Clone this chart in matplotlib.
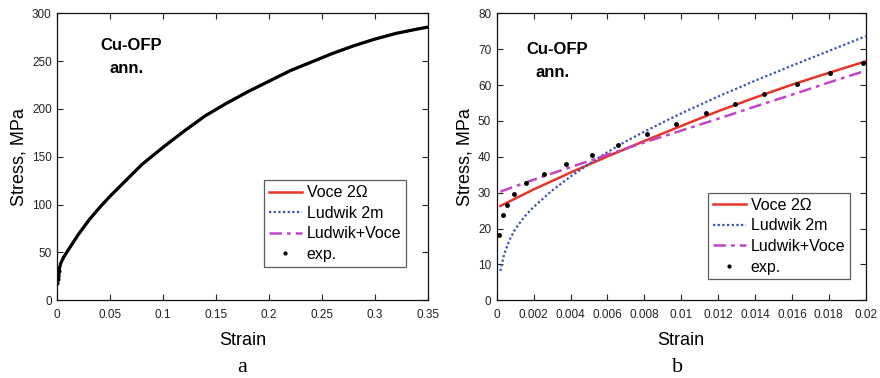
import matplotlib
matplotlib.use("Agg")
import matplotlib.pyplot as plt
from matplotlib.lines import Line2D

plt.rcParams['font.family'] = ['Liberation Sans', 'DejaVu Sans']

# ---- Panel a: full range (experimental curve, fits coincide) ----
strain_a = [0, 0.001, 0.003, 0.006, 0.01, 0.02, 0.03, 0.04, 0.05, 0.06, 0.08,
            0.10, 0.12, 0.14, 0.16, 0.18, 0.20, 0.22, 0.24, 0.26, 0.28, 0.30,
            0.32, 0.34, 0.35]
stress_a = [17.8, 28, 38, 45, 52, 69, 84, 97, 109, 120, 142,
            160, 177, 193, 206, 218, 229, 240, 249, 258, 266, 273,
            279, 283.5, 285.5]
start_strain_a = [0, 0.0003, 0.0006, 0.001, 0.0015]
start_stress_a = [17.8, 22, 25, 28, 31]

# ---- Panel b: small strains ----
exp_strain = [0.000145, 0.00036, 0.00056, 0.00096, 0.00157, 0.00257, 0.00378,
              0.00517, 0.00656, 0.00815, 0.00974, 0.01133, 0.01292, 0.01449,
              0.01628, 0.01805, 0.01984]
exp_stress = [18.2, 23.8, 26.7, 29.7, 32.6, 35.2, 37.9, 40.6, 43.3, 46.3,
              49.2, 52.1, 54.7, 57.4, 60.4, 63.3, 66.1]

voce_strain = [0.0002, 0.002, 0.004, 0.006, 0.008, 0.010, 0.012, 0.014,
               0.016, 0.018, 0.020]
voce_stress = [26.3, 30.9, 35.6, 40.1, 44.4, 48.6, 52.7, 56.5, 60.1, 63.4, 66.6]

ludwik_strain = [0.0002, 0.0004, 0.0007, 0.001, 0.0015, 0.002, 0.003, 0.004,
                 0.005, 0.006, 0.007, 0.008, 0.009, 0.010, 0.012, 0.014,
                 0.016, 0.018, 0.020]
ludwik_stress = [8.2, 12.8, 16.9, 19.8, 23.3, 26.0, 30.6, 34.5, 38.0, 41.3,
                 44.3, 47.0, 49.6, 52.1, 56.8, 61.2, 65.4, 69.5, 73.6]

lv_strain = [0.0002, 0.002, 0.004, 0.006, 0.008, 0.010, 0.012, 0.014,
             0.016, 0.018, 0.020]
lv_stress = [30.3, 33.6, 37.1, 40.6, 44.0, 47.3, 50.6, 54.0, 57.3, 60.7, 64.0]

xticks_a = [0, 0.05, 0.1, 0.15, 0.2, 0.25, 0.3, 0.35]
xticklabels_a = ['0', '0.05', '0.1', '0.15', '0.2', '0.25', '0.3', '0.35']
yticks_a = [0, 50, 100, 150, 200, 250, 300]
xticks_b = [0, 0.002, 0.004, 0.006, 0.008, 0.01, 0.012, 0.014, 0.016, 0.018, 0.02]
xticklabels_b = ['0', '0.002', '0.004', '0.006', '0.008', '0.01', '0.012',
                 '0.014', '0.016', '0.018', '0.02']
yticks_b = [0, 10, 20, 30, 40, 50, 60, 70, 80]

RED = '#e5352a'
BLUE = '#3a4fbf'
MAG = '#c444c6'

fig = plt.figure(figsize=(8.8, 3.78), dpi=100)
axA = fig.add_axes([57.3 / 880, 1 - 300.3 / 378, (427.7 - 57.3) / 880, (300.3 - 13.3) / 378])
axB = fig.add_axes([496.7 / 880, 1 - 300.3 / 378, (865.7 - 496.7) / 880, (300.3 - 13.3) / 378])

def style(ax, xt, xtl, yt):
    ax.set_xticks(xt)
    ax.set_xticklabels(xtl)
    ax.set_yticks(yt)
    ax.tick_params(direction='in', top=True, right=True, length=4, width=0.8,
                   labelsize=8.5, colors='#222222', pad=4)
    ax.tick_params(axis='x', pad=6)
    for s in ax.spines.values():
        s.set_linewidth(0.9)
        s.set_color('#111111')
    ax.set_xlabel('Strain', fontsize=13, labelpad=8)
    ax.set_ylabel('Stress, MPa', fontsize=13, labelpad=3)

# Panel a
axA.plot(strain_a, stress_a, color=RED, lw=1.5)
axA.plot(strain_a, stress_a, color=BLUE, lw=1.5, ls=':')
axA.plot(strain_a, stress_a, color=MAG, lw=1.5, ls='-.')
axA.plot(strain_a, stress_a, color='black', lw=2.3)
axA.plot(start_strain_a, start_stress_a, ls='none', marker='.', color='black', ms=4)
axA.set_xlim(0, 0.35)
axA.set_ylim(0, 300)
style(axA, xticks_a, xticklabels_a, yticks_a)
fig.text(131 / 880, 1 - 45 / 378, 'Cu-OFP', fontsize=12, fontweight='bold', ha='center', va='center')
fig.text(126.5 / 880, 1 - 68.5 / 378, 'ann.', fontsize=12, fontweight='bold', ha='center', va='center')

# Panel b
axB.plot(voce_strain, voce_stress, color=RED, lw=1.8)
axB.plot(ludwik_strain, ludwik_stress, color=BLUE, lw=1.6, ls=(0, (1, 1.1)))
axB.plot(lv_strain, lv_stress, color=MAG, lw=1.8, ls=(0, (5, 2, 1.5, 2)))
axB.plot(exp_strain, exp_stress, ls='none', marker='.', color='black', ms=5)
axB.set_xlim(0, 0.02)
axB.set_ylim(0, 80)
style(axB, xticks_b, xticklabels_b, yticks_b)
fig.text(557.5 / 880, 1 - 50 / 378, 'Cu-OFP', fontsize=12, fontweight='bold', ha='center', va='center')
fig.text(553 / 880, 1 - 72.5 / 378, 'ann.', fontsize=12, fontweight='bold', ha='center', va='center')

handles = [
    Line2D([], [], color=RED, lw=1.8),
    Line2D([], [], color=BLUE, lw=1.6, ls=(0, (1, 1.1))),
    Line2D([], [], color=MAG, lw=1.8, ls=(0, (5, 2, 1.5, 2))),
    Line2D([], [], ls='none', marker='.', color='black', ms=4),
]
labels = ['Voce 2\u03a9', 'Ludwik 2m', 'Ludwik+Voce', 'exp.']

for ax, anchor in ((axA, (406 / 880, 1 - 266.7 / 378)), (axB, (850 / 880, 1 - 279.3 / 378))):
    leg = ax.legend(handles, labels, loc='lower right', bbox_to_anchor=anchor,
                    bbox_transform=fig.transFigure, fontsize=11.5, frameon=True,
                    fancybox=False, edgecolor='#333333', handlelength=2.05,
                    handletextpad=0.3, borderpad=0.3, labelspacing=0.35,
                    borderaxespad=0)
    leg.get_frame().set_linewidth(0.9)

fig.text(242 / 880, 1 - 367 / 378, 'a', fontsize=16, family='Liberation Serif', ha='center', va='center')
fig.text(678 / 880, 1 - 367 / 378, 'b', fontsize=16, family='Liberation Serif', ha='center', va='center')

fig.savefig('out.png', dpi=100)
